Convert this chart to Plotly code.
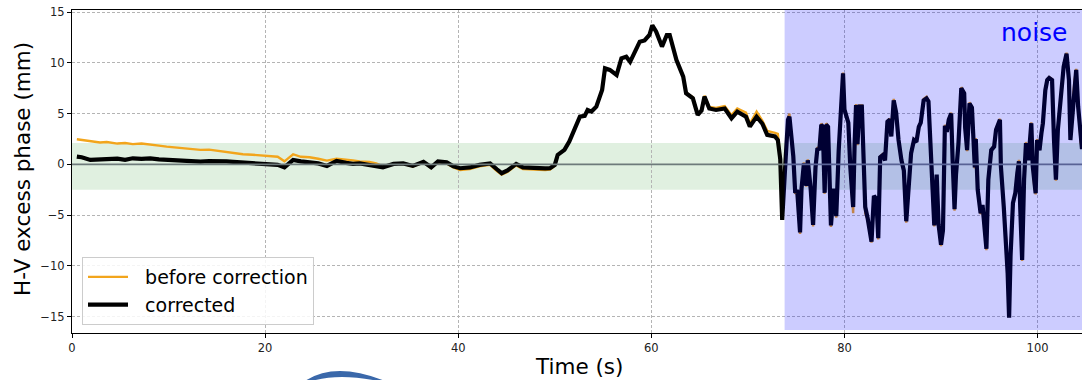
import plotly.graph_objects as go

# ---------------- data ----------------
# slow drift part, 0-50 s
t_drift = [0.5, 1.0, 1.9, 2.9, 3.6, 4.7, 5.5, 6.3, 7.2, 8.1,
           9.0, 9.8, 11.0, 12.0, 13.3, 14.2, 15.0, 16.0, 16.7, 17.7,
           18.7, 19.5, 20.5, 21.3, 22.0, 22.9, 23.7, 24.6, 25.5, 26.4,
           27.4, 28.4, 29.1, 29.8, 30.8, 31.5, 32.2, 33.3, 34.3, 35.3,
           36.4, 37.2, 37.9, 38.8, 39.5, 40.2, 41.2, 42.2, 43.3, 44.0,
           44.5, 45.1, 46.0, 46.7, 47.4, 48.1, 49.0, 49.5, 50.0]
corr_drift = [0.77, 0.70, 0.44, 0.45, 0.54, 0.57, 0.45, 0.60, 0.55, 0.60,
              0.50, 0.44, 0.40, 0.35, 0.28, 0.33, 0.34, 0.30, 0.25, 0.20,
              0.12, 0.12, 0.00, -0.05, -0.30, 0.44, 0.30, 0.20, 0.10, -0.15,
              0.34, 0.15, 0.05, 0.10, -0.05, -0.10, -0.28, 0.05, 0.10, -0.15,
              0.25, -0.28, 0.30, 0.20, -0.20, -0.38, -0.30, -0.05, 0.10, -0.48,
              -0.87, -0.60, 0.05, -0.30, -0.35, -0.38, -0.40, -0.38, -0.05]
before_drift = [2.48, 2.40, 2.30, 2.15, 2.20, 2.05, 2.10, 2.00, 2.05, 1.98,
                1.85, 1.75, 1.65, 1.55, 1.43, 1.45, 1.35, 1.20, 1.10, 1.00,
                0.95, 0.90, 0.84, 0.75, 0.30, 1.00, 0.75, 0.70, 0.55, 0.37,
                0.55, 0.50, 0.40, 0.30, 0.25, 0.10, -0.20, 0.05, 0.05, -0.20,
                0.20, -0.35, 0.20, 0.10, -0.30, -0.55, -0.45, -0.20, -0.05, -0.65,
                -1.00, -0.75, -0.10, -0.45, -0.50, -0.52, -0.55, -0.52, -0.15]

# event part, 50-73.6 s
t_event = [50.3, 50.7, 51.0, 51.5, 52.1, 52.6, 53.1, 53.4, 53.8, 54.3,
           54.9, 55.2, 55.7, 56.4, 56.9, 57.4, 57.8, 58.3, 58.8, 59.3,
           59.8, 60.1, 60.5, 61.1, 61.6, 61.9, 62.6, 63.3, 63.6, 64.3,
           64.8, 65.2, 65.5, 66.0, 66.7, 67.6, 68.3, 68.9, 69.8, 70.2,
           70.9, 71.5, 72.0, 72.8, 73.1, 73.35, 73.55]
corr_event = [0.93, 1.20, 1.43, 2.25, 3.72, 4.70, 4.77, 5.36, 5.20, 5.69,
              7.33, 9.46, 9.30, 8.80, 10.44, 10.60, 10.10, 11.00, 12.08, 12.20,
              12.74, 13.70, 13.06, 11.60, 12.74, 12.74, 10.28, 8.64, 7.00, 6.50,
              4.87, 5.30, 6.67, 5.50, 5.36, 5.50, 4.54, 5.20, 4.70, 3.72,
              4.70, 4.00, 2.90, 2.75, 2.40, 0.50, -5.46]
before_event = [0.93, 1.20, 1.43, 2.25, 3.72, 4.70, 4.77, 5.36, 5.20, 5.69,
                7.33, 9.46, 9.30, 8.80, 10.44, 10.60, 10.10, 11.00, 12.08, 12.20,
                12.74, 13.70, 13.06, 11.60, 12.74, 12.74, 10.28, 8.64, 7.05, 6.60,
                4.95, 5.40, 6.75, 5.65, 5.55, 5.75, 4.85, 5.50, 5.10, 4.00,
                5.20, 4.30, 3.30, 3.10, 3.00, 0.70, -5.30]

# noise part, 73.9 s onwards
t_noise = [73.9, 74.15, 74.3, 74.5, 74.7, 74.9, 75.1, 75.4, 75.55, 75.8,
           76.05, 76.2, 76.5, 76.75, 77.0, 77.2, 77.4, 77.6, 77.75, 77.95,
           78.1, 78.3, 78.5, 78.6, 78.9, 79.15, 79.4, 79.6, 79.85, 80.0,
           80.4, 80.6, 80.9, 81.05, 81.2, 81.35, 81.55, 81.8, 82.0, 82.15,
           82.4, 82.8, 83.05, 83.3, 83.5, 83.7, 83.95, 84.2, 84.45, 84.7,
           84.85, 85.1, 85.35, 85.6, 85.9, 86.15, 86.4, 86.6, 86.9, 87.2,
           87.45, 87.7, 87.9, 88.2, 88.5, 88.7, 88.9, 89.1, 89.3, 89.55,
           89.75, 90.0, 90.2, 90.4, 90.6, 90.8, 91.05, 91.2, 91.4, 91.55,
           91.8, 92.1, 92.4, 92.5, 92.7, 92.95, 93.2, 93.5, 93.6, 93.8,
           94.1, 94.3, 94.7, 94.9, 95.2, 95.5, 95.7, 96.1, 96.2, 96.5,
           96.75, 96.9, 97.05, 97.2, 97.45, 97.7, 97.9, 98.07, 98.2, 98.4,
           98.6, 98.8, 99.05, 99.35, 99.5, 99.65, 99.8, 99.95, 100.2, 100.4,
           100.55, 100.8, 101.0, 101.2, 101.5, 101.7, 101.9, 102.1, 102.45, 102.7,
           103.0, 103.25, 103.4, 103.6, 103.8, 104.0, 104.2, 104.45, 104.6]
corr_noise = [0.44, 4.4, 4.7, 2.4, 0.8, -2.8, -2.5, -6.7, -2.4, 0.1,
              -2.1, 0.4, -2.4, -5.95, -0.3, 1.6, 1.4, 3.9, 3.7, -2.8,
              3.9, 3.7, -2.8, -6.0, -2.4, -5.1, 1.3, 5.0, 8.97, 5.4,
              4.1, -0.2, -4.2, 2.0, 5.85, 2.0, 5.7, 5.7, -0.3, -4.2,
              -5.3, -7.6, -3.1, -3.4, -7.26, 0.7, 0.9, 0.4, 4.2, 4.4,
              2.75, 6.3, 5.1, 2.4, 0.4, -0.6, -5.6, -3.0, 1.1, 2.4,
              2.2, 3.7, 4.1, 6.3, 6.5, 6.2, 1.9, -0.6, -6.0, -1.0,
              -5.95, -7.9, -6.5, 3.8, 3.2, 4.4, 5.0, 0.5, -4.4, -1.0,
              2.0, 7.5, 7.0, 3.6, 1.4, 6.0, 5.6, -0.3, 2.5, -2.5,
              -4.8, -4.0, -8.3, -1.5, 1.4, 1.75, 3.4, 4.4, -0.2, -4.2,
              -7.4, -10.7, -15.1, -9.0, -3.8, -2.8, -0.87, 0.3, -4.2, -9.4,
              -1.5, 2.1, 0.4, 4.05, -0.2, -2.0, -2.84, 2.4, 1.4, 3.1,
              4.05, 7.3, 8.3, 8.5, 8.3, 2.4, -1.5, 3.4, 6.7, 9.6,
              10.9, 8.3, 2.4, 5.0, 8.0, 9.3, 5.7, 2.1, 1.5]
before_noise = [0.5, 4.6, 5.0, 2.5, 0.9, -2.9, -2.6, -6.85, -2.5, 0.2,
                -2.2, 0.5, -2.5, -6.1, -0.4, 1.7, 1.5, 4.05, 3.8, -2.9,
                4.05, 3.8, -2.9, -6.15, -2.5, -5.25, 1.4, 5.1, 9.05, 5.5,
                4.2, -0.3, -4.8, 1.9, 5.95, 1.9, 5.8, 5.8, -0.4, -4.8,
                -5.4, -7.7, -3.2, -3.5, -7.4, 0.8, 1.0, 0.5, 4.3, 4.5,
                2.85, 6.45, 5.2, 2.5, 0.5, -0.7, -5.75, -3.1, 1.2, 2.5,
                2.3, 3.8, 4.2, 6.45, 6.65, 6.3, 2.0, -0.7, -6.1, -1.1,
                -6.1, -8.05, -6.6, 3.9, 3.3, 4.5, 5.1, 0.4, -4.55, -1.1,
                2.1, 7.6, 7.1, 3.7, 1.3, 6.1, 5.7, -0.4, 2.6, -2.6,
                -4.9, -4.1, -8.45, -1.6, 1.5, 1.85, 3.5, 4.5, -0.3, -4.3,
                -7.5, -10.8, -15.0, -9.1, -3.9, -2.9, -0.95, 0.45, -4.3, -9.5,
                -1.6, 2.2, 0.5, 4.15, -0.3, -2.1, -2.95, 2.5, 1.5, 3.2,
                4.15, 7.4, 8.4, 8.6, 8.4, 2.5, -1.6, 3.5, 6.8, 9.7,
                11.0, 8.4, 2.55, 5.1, 8.1, 9.4, 5.8, 2.2, 1.6]

x_ticks = [0, 20, 40, 60, 80, 100]
y_ticks = [-15, -10, -5, 0, 5, 10, 15]
x_range = [0, 104.6]
y_range = [-16.6, 15.2]
band_low, band_high = -2.5, 2.1
noise_start = 73.8
noise_bottom = -16.3
legend_names = ["before correction", "corrected"]

time_s = t_drift + t_event + t_noise
corrected = corr_drift + corr_event + corr_noise
before = before_drift + before_event + before_noise
assert len(time_s) == len(corrected) == len(before)

# ---------------- figure ----------------
W, H = 1082, 380
ML, MR, MT, MB = 72, 0, 10, 47
PW, PH = W - ML - MR, H - MT - MB


def px(xp, yp):
    """pixel position -> paper coordinates (for decorations only)"""
    return (xp - ML) / PW, (H - MB - yp) / PH


font_family = "DejaVu Sans"
gap = "\u00a0\u00a0"

fig = go.Figure()
fig.add_trace(go.Scatter(x=time_s, y=before, mode="lines", name=gap + legend_names[0],
                         line=dict(color="#f2a51c", width=2.4)))
fig.add_trace(go.Scatter(x=time_s, y=corrected, mode="lines", name=gap + legend_names[1],
                         line=dict(color="black", width=4.2)))

# green tolerance band
fig.add_shape(type="rect", xref="paper", yref="y", x0=0, x1=1, y0=band_low, y1=band_high,
              fillcolor="rgba(0,128,0,0.12)", line=dict(width=0), layer="below")
# zero line
fig.add_shape(type="line", xref="paper", yref="y", x0=0, x1=1, y0=0, y1=0,
              line=dict(color="#6e7b7b", width=1.6), layer="above")
# noise span
fig.add_shape(type="rect", xref="x", yref="y", x0=noise_start, x1=x_range[1],
              y0=noise_bottom, y1=y_range[1],
              fillcolor="rgba(0,0,255,0.2)", line=dict(width=0), layer="above")

# partial logo arc at the bottom
p = [px(305, 381), px(335, 361), px(385, 381), px(378, 381), px(339, 373), px(312, 381)]
path = ("M {:.4f},{:.4f} Q {:.4f},{:.4f} {:.4f},{:.4f} L {:.4f},{:.4f} "
        "Q {:.4f},{:.4f} {:.4f},{:.4f} Z").format(*[v for pt in p for v in pt])
fig.add_shape(type="path", xref="paper", yref="paper", path=path,
              fillcolor="#3a68aa", line=dict(width=0), layer="above")

# texts
fig.add_annotation(text="noise", xref="x", yref="y", x=103.4, y=13.0,
                   xanchor="right", yanchor="middle", showarrow=False,
                   font=dict(family=font_family, size=25, color="#0000ff"))
ax, ay = px(22, 169)
fig.add_annotation(text="H-V excess phase (mm)", xref="paper", yref="paper", x=ax, y=ay,
                   textangle=-90, xanchor="center", yanchor="middle", showarrow=False,
                   font=dict(family=font_family, size=21.5, color="black"))
bx, by = px(579, 366)
fig.add_annotation(text="Time (s)", xref="paper", yref="paper", x=bx, y=by,
                   xanchor="center", yanchor="middle", showarrow=False,
                   font=dict(family=font_family, size=21.5, color="black"))

axis_common = dict(showgrid=True, gridcolor="#b4b4b4", griddash="3px,2px", gridwidth=0.8,
                   zeroline=False, showline=True, linecolor="black", linewidth=1.2,
                   ticks="outside", ticklen=4, tickcolor="black", tickwidth=1,
                   tickfont=dict(family=font_family, size=11.5, color="#222222"))

fig.update_xaxes(range=x_range, tickvals=x_ticks, mirror=True, **axis_common)
fig.update_yaxes(range=y_range, tickvals=y_ticks, **axis_common)

lx, ly = px(82, 325)
fig.update_layout(
    width=W, height=H,
    margin=dict(l=ML, r=MR, t=MT, b=MB, pad=0),
    paper_bgcolor="white", plot_bgcolor="white",
    showlegend=True,
    legend=dict(x=lx, y=ly, xanchor="left", yanchor="bottom",
                bgcolor="rgba(255,255,255,0.85)", bordercolor="#cccccc", borderwidth=1,
                font=dict(family=font_family, size=19, color="black"),
                itemwidth=40),
    font=dict(family=font_family),
)

fig.write_html("out.html", config={"displayModeBar": False},
               post_script="document.body.style.margin='0';document.body.style.overflow='hidden';")
